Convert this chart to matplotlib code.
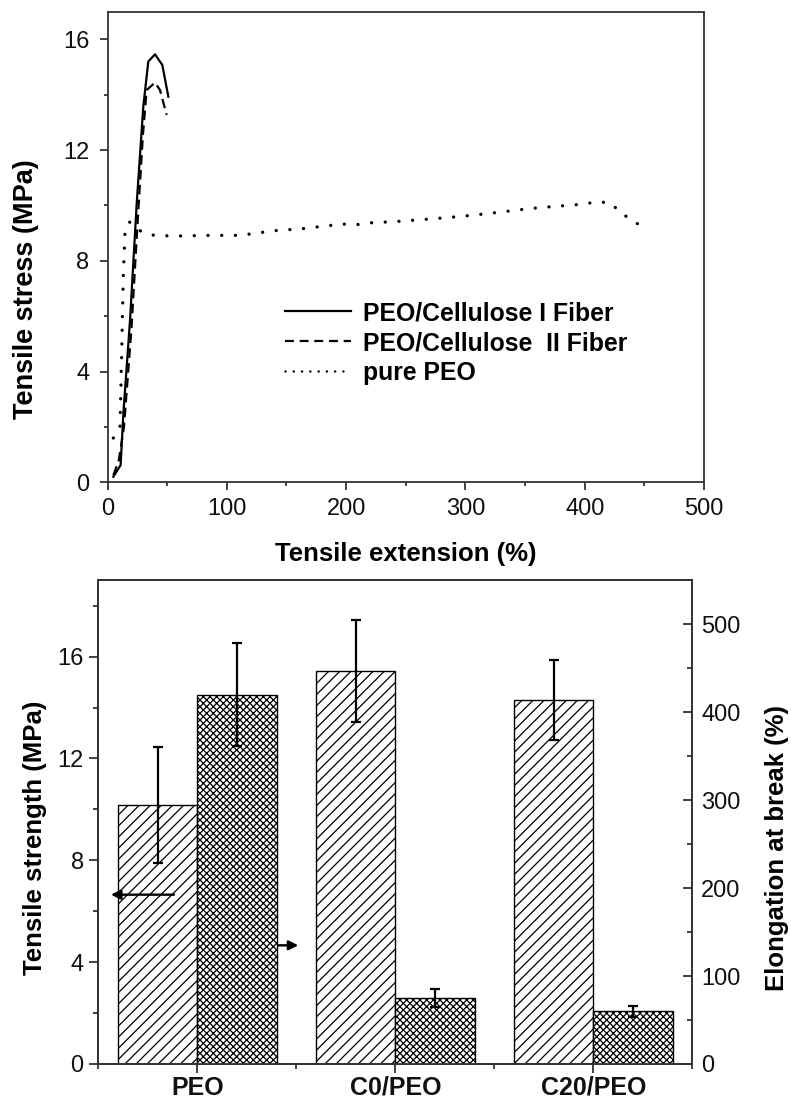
import matplotlib
matplotlib.use("Agg")
import matplotlib.pyplot as plt
from matplotlib.lines import Line2D
from matplotlib.ticker import MultipleLocator, FixedLocator

plt.rcParams["font.family"] = ["Liberation Sans", "DejaVu Sans"]
plt.rcParams["hatch.linewidth"] = 0.9

# ---- stress-strain curves (top panel) ----
cell1_ext = [4.9, 11.0, 13.3, 18.9, 24.5, 30.0, 34.2, 39.8, 45.9, 51.0]
cell1_stress = [0.2, 0.62, 2.49, 5.86, 10.08, 13.57, 15.2, 15.46, 15.08, 13.93]

cell2_ext = [4.9, 9.5, 13.8, 20.0, 25.4, 29.6, 32.8, 39.8, 44.0, 49.6]
cell2_stress = [0.25, 0.8, 2.0, 5.5, 9.5, 12.5, 14.17, 14.44, 14.17, 13.27]

peo_ext = [4.9, 10.5, 11.9, 13.2, 14.7, 18.5, 28.5, 40, 62, 85, 107, 118, 140, 163,
           185, 197, 208, 219, 242, 264, 287, 309, 331, 354, 376, 399, 410, 421,
           432, 443, 454]
peo_stress = [1.6, 2.0, 4.7, 7.4, 9.1, 9.4, 9.05, 8.91, 8.9, 8.92, 8.92, 8.96, 9.09,
              9.16, 9.27, 9.33, 9.3, 9.37, 9.42, 9.49, 9.57, 9.66, 9.77, 9.89, 9.97,
              10.05, 10.13, 10.1, 9.69, 9.36, 9.2]

curve_labels = ["PEO/Cellulose I Fiber", "PEO/Cellulose  II Fiber", "pure PEO"]

# ---- bar data (bottom panel) ----
samples = ["PEO", "C0/PEO", "C20/PEO"]
strength = [10.17, 15.45, 14.3]
strength_err = [2.26, 2.0, 1.58]
elongation = [420, 75, 60]
elongation_err = [59, 10, 6.5]

# guide arrows: (x_start, x_tip, y on strength axis)
arrow_left = [-0.118, -0.436, 6.65]
arrow_right = [0.19, 0.51, 4.66]

SPINE = "#333333"
W, H = 791, 1101
fig = plt.figure(figsize=(W / 100, H / 100), dpi=100)


def style_spines(ax):
    for s in ax.spines.values():
        s.set_color(SPINE)
        s.set_linewidth(1.3)


# ================= top panel =================
ax1 = fig.add_axes([107.5 / W, 1 - 482.3 / H, 596.5 / W, 470.6 / H])
ax1.plot(cell1_ext, cell1_stress, color="black", lw=1.6)
ax1.plot(cell2_ext, cell2_stress, color="black", lw=1.6, dashes=(4.3, 2.4))
ax1.plot(peo_ext, peo_stress, color="black", lw=2.4,
         linestyle=(0, (0.01, 4.1)), dash_capstyle="round")

ax1.set_xlim(0, 500)
ax1.set_ylim(0, 17)
ax1.xaxis.set_major_locator(MultipleLocator(100))
ax1.xaxis.set_minor_locator(MultipleLocator(50))
ax1.yaxis.set_major_locator(MultipleLocator(4))
ax1.yaxis.set_minor_locator(MultipleLocator(2))
ax1.tick_params(which="both", direction="out", color=SPINE, width=1.3,
                top=False, right=False, labelsize=17, labelcolor="#111111")
ax1.tick_params(which="major", length=6)
ax1.tick_params(which="minor", length=3)
ax1.tick_params(axis="x", pad=5.5)
ax1.tick_params(axis="y", pad=7)
style_spines(ax1)
ax1.set_xlabel("Tensile extension (%)", fontsize=18.5, fontweight="bold")
ax1.set_ylabel("Tensile stress (MPa)", fontsize=19.5, fontweight="bold")
ax1.xaxis.set_label_coords(0.5, -0.126)
ax1.yaxis.set_label_coords(-0.115, 0.41)

handles = [
    Line2D([], [], color="black", lw=1.6),
    Line2D([], [], color="black", lw=1.6, dashes=(4, 2.6)),
    Line2D([], [], color="black", lw=1.8, linestyle=(0, (0.01, 3.3)),
           dash_capstyle="round"),
]
ax1.legend(handles, curve_labels, loc="upper left",
           bbox_to_anchor=(0.2976, 0.385), frameon=False, borderpad=0,
           borderaxespad=0, handlelength=2.65, handletextpad=0.5,
           labelspacing=0.24, prop={"size": 17.8, "weight": "bold"})

# ================= bottom panel =================
ax = fig.add_axes([98.3 / W, 1 - 1064 / H, 594 / W, 483.8 / H])
ax2 = ax.twinx()
xpos = list(range(len(samples)))
bw = 0.4
x_left = [p - bw / 2 for p in xpos]
x_right = [p + bw / 2 for p in xpos]

ax.bar(x_left, strength, width=bw, facecolor="white", edgecolor="black",
       linewidth=1.0, hatch="///")
ax.errorbar(x_left, strength, yerr=strength_err, fmt="none", ecolor="black",
            elinewidth=1.6, capsize=3.6, capthick=1.6)
ax2.bar(x_right, elongation, width=bw, facecolor="white", edgecolor="black",
        linewidth=1.0, hatch="xxxxx")
ax2.errorbar(x_right, elongation, yerr=elongation_err, fmt="none",
             ecolor="black", elinewidth=1.6, capsize=3.6, capthick=1.6)

for a in (arrow_left, arrow_right):
    ax.annotate("", xy=(a[1], a[2]), xytext=(a[0], a[2]),
                arrowprops=dict(arrowstyle="-|>", color="black", lw=1.7,
                                mutation_scale=14, shrinkA=0, shrinkB=0))

ax.set_xlim(-0.5, 2.5)
ax.set_ylim(0, 19)
ax2.set_ylim(0, 550)
ax.set_xticks(xpos)
ax.set_xticklabels(samples, fontsize=18, fontweight="bold")
ax.xaxis.set_minor_locator(FixedLocator([-0.5, 0.5, 1.5, 2.5]))
ax.yaxis.set_major_locator(MultipleLocator(4))
ax.yaxis.set_minor_locator(MultipleLocator(2))
ax2.yaxis.set_major_locator(MultipleLocator(100))
ax2.yaxis.set_minor_locator(MultipleLocator(50))

ax.tick_params(which="both", direction="out", color=SPINE, width=1.3,
               top=False, right=False, labelcolor="#111111")
ax.tick_params(which="major", length=6.5)
ax.tick_params(which="minor", length=3.5)
ax.tick_params(axis="y", labelsize=17, pad=4)
ax.tick_params(axis="x", pad=2)
ax2.tick_params(which="both", direction="in", color=SPINE, width=1.3,
                labelsize=17, labelcolor="#111111", pad=6.5)
ax2.tick_params(which="major", length=6.5)
ax2.tick_params(which="minor", length=3.5)
style_spines(ax)
style_spines(ax2)

ax.set_ylabel("Tensile strength (MPa)", fontsize=18.5, fontweight="bold")
ax.yaxis.set_label_coords(-0.086, 0.468)
ax2.set_ylabel("Elongation at break (%)", fontsize=18.5, fontweight="bold")
ax2.yaxis.set_label_coords(1.122, 0.447)

fig.savefig("out.png", dpi=100)
